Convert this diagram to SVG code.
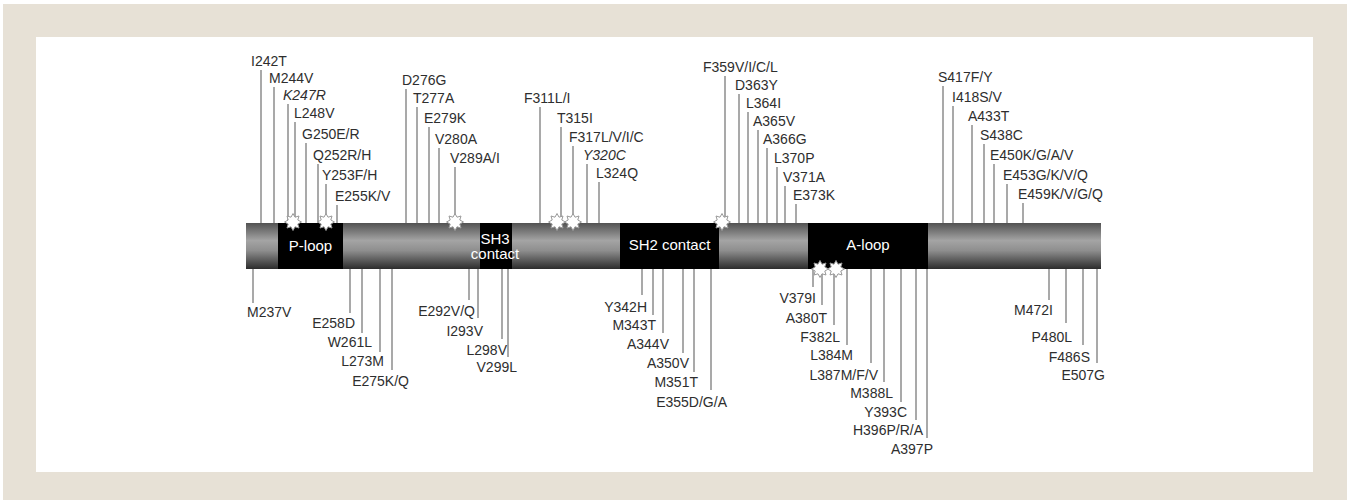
<svg xmlns="http://www.w3.org/2000/svg" width="1354" height="500" viewBox="0 0 1354 500">
<defs>
<linearGradient id="barGrad" x1="0" y1="0" x2="0" y2="1">
<stop offset="0" stop-color="#525252"/>
<stop offset="0.38" stop-color="#a4a4a4"/>
<stop offset="0.6" stop-color="#8e8e8e"/>
<stop offset="1" stop-color="#2c2c2c"/>
</linearGradient>
<polygon id="star" points="0,-8.5 2,-4.8 6,-6 4.8,-2 8.5,0 4.8,2 6,6 2,4.8 0,8.5 -2,4.8 -6,6 -4.8,2 -8.5,0 -4.8,-2 -6,-6 -2,-4.8"/>
</defs>
<style>
text{font-family:"Liberation Sans",Arial,sans-serif;font-size:14px;fill:#2e2e2e}
.it{font-style:italic}
.e{text-anchor:end}
.dom{fill:#fff;font-size:15px;text-anchor:middle}
#connectors line{stroke:#707070;stroke-width:1.2}
.st{fill:#fff;stroke:#9a9a9a;stroke-width:1}
</style>
<rect x="0" y="0" width="1354" height="500" fill="#fff"/>
<rect x="3" y="4" width="1344" height="496" fill="#e7e1d6"/>
<rect x="36" y="37" width="1277" height="435" fill="#fff"/>

<g id="connectors">
<line x1="261" y1="70" x2="261" y2="223"/>
<line x1="274" y1="87" x2="274" y2="223"/>
<line x1="288" y1="104" x2="288" y2="223"/>
<line x1="295" y1="122" x2="295" y2="223"/>
<line x1="306" y1="143" x2="306" y2="223"/>
<line x1="318" y1="164" x2="318" y2="223"/>
<line x1="326" y1="184" x2="326" y2="223"/>
<line x1="337" y1="205" x2="337" y2="223"/>
<line x1="406" y1="89" x2="406" y2="223"/>
<line x1="417" y1="107" x2="417" y2="223"/>
<line x1="429" y1="127" x2="429" y2="223"/>
<line x1="439" y1="148" x2="439" y2="223"/>
<line x1="455" y1="167" x2="455" y2="223"/>
<line x1="540" y1="107" x2="540" y2="223"/>
<line x1="561" y1="127" x2="561" y2="223"/>
<line x1="573" y1="146" x2="573" y2="223"/>
<line x1="587" y1="164" x2="587" y2="223"/>
<line x1="599" y1="182" x2="599" y2="223"/>
<line x1="725" y1="76" x2="725" y2="223"/>
<line x1="739" y1="94" x2="739" y2="223"/>
<line x1="748" y1="112" x2="748" y2="223"/>
<line x1="758" y1="130" x2="758" y2="223"/>
<line x1="767" y1="148" x2="767" y2="223"/>
<line x1="777" y1="167" x2="777" y2="223"/>
<line x1="785" y1="186" x2="785" y2="223"/>
<line x1="796" y1="204" x2="796" y2="223"/>
<line x1="943" y1="86" x2="943" y2="223"/>
<line x1="953" y1="106" x2="953" y2="223"/>
<line x1="972" y1="125" x2="972" y2="223"/>
<line x1="984" y1="144" x2="984" y2="223"/>
<line x1="994" y1="164" x2="994" y2="223"/>
<line x1="1007" y1="184" x2="1007" y2="223"/>
<line x1="1023" y1="203" x2="1023" y2="223"/>

<line x1="253" y1="269" x2="253" y2="303"/>
<line x1="350" y1="269" x2="350" y2="313"/>
<line x1="362" y1="269" x2="362" y2="333"/>
<line x1="380" y1="269" x2="380" y2="352"/>
<line x1="392" y1="269" x2="392" y2="370"/>
<line x1="469" y1="269" x2="469" y2="300"/>
<line x1="478" y1="269" x2="478" y2="318"/>
<line x1="502" y1="269" x2="502" y2="339"/>
<line x1="508" y1="269" x2="508" y2="357"/>
<line x1="642" y1="269" x2="642" y2="295"/>
<line x1="653" y1="269" x2="653" y2="315"/>
<line x1="663" y1="269" x2="663" y2="333"/>
<line x1="683" y1="269" x2="683" y2="353"/>
<line x1="694" y1="269" x2="694" y2="372"/>
<line x1="711" y1="269" x2="711" y2="390"/>
<line x1="813" y1="269" x2="813" y2="287"/>
<line x1="822" y1="269" x2="822" y2="305"/>
<line x1="834" y1="269" x2="834" y2="325"/>
<line x1="847" y1="269" x2="847" y2="345"/>
<line x1="871" y1="269" x2="871" y2="363"/>
<line x1="884" y1="269" x2="884" y2="382"/>
<line x1="901" y1="269" x2="901" y2="402"/>
<line x1="916" y1="269" x2="916" y2="420"/>
<line x1="927" y1="269" x2="927" y2="438"/>
<line x1="1049" y1="269" x2="1049" y2="300"/>
<line x1="1066" y1="269" x2="1066" y2="323"/>
<line x1="1083" y1="269" x2="1083" y2="345"/>
<line x1="1097" y1="269" x2="1097" y2="363"/>
</g>

<g id="protein">
<rect x="246" y="223" width="855" height="46" fill="url(#barGrad)"/>
</g>
<g id="p-loop"><rect x="278" y="223" width="65" height="46" fill="#000"/><text class="dom" x="310.5" y="251">P-loop</text></g>
<g id="sh3-contact"><rect x="480" y="223" width="32" height="46" fill="#000"/><text class="dom" x="495" y="244">SH3</text><text class="dom" x="495" y="259">contact</text></g>
<g id="sh2-contact"><rect x="620" y="223" width="99" height="46" fill="#000"/><text class="dom" x="669.5" y="250">SH2 contact</text></g>
<g id="a-loop"><rect x="808" y="223" width="120" height="46" fill="#000"/><text class="dom" x="868" y="250">A-loop</text></g>

<g id="stars">
<use href="#star" class="st" x="293" y="222"/>
<use href="#star" class="st" x="326" y="222"/>
<use href="#star" class="st" x="455" y="222"/>
<use href="#star" class="st" x="557" y="222"/>
<use href="#star" class="st" x="573" y="222"/>
<use href="#star" class="st" x="722" y="222"/>
<use href="#star" class="st" x="820" y="269"/>
<use href="#star" class="st" x="836" y="269"/>
</g>

<g id="top-labels">
<g id="I242T"><text x="251" y="66">I242T</text></g>
<g id="M244V"><text x="269" y="83">M244V</text></g>
<g id="K247R"><text class="it" x="283" y="100">K247R</text></g>
<g id="L248V"><text x="294" y="118">L248V</text></g>
<g id="G250E"><text x="302" y="139">G250E/R</text></g>
<g id="Q252R"><text x="313" y="160">Q252R/H</text></g>
<g id="Y253F"><text x="322" y="180">Y253F/H</text></g>
<g id="E255K"><text x="335" y="201">E255K/V</text></g>
<g id="D276G"><text x="402" y="85">D276G</text></g>
<g id="T277A"><text x="413" y="103">T277A</text></g>
<g id="E279K"><text x="424" y="123">E279K</text></g>
<g id="V280A"><text x="435" y="144">V280A</text></g>
<g id="V289A"><text x="450" y="163">V289A/I</text></g>
<g id="F311L"><text x="524" y="103">F311L/I</text></g>
<g id="T315I"><text x="557" y="123">T315I</text></g>
<g id="F317L"><text x="569" y="142">F317L/V/I/C</text></g>
<g id="Y320C"><text class="it" x="583" y="160">Y320C</text></g>
<g id="L324Q"><text x="596" y="178">L324Q</text></g>
<g id="F359V"><text x="703" y="72">F359V/I/C/L</text></g>
<g id="D363Y"><text x="735" y="90">D363Y</text></g>
<g id="L364I"><text x="746" y="108">L364I</text></g>
<g id="A365V"><text x="753" y="126">A365V</text></g>
<g id="A366G"><text x="763" y="144">A366G</text></g>
<g id="L370P"><text x="774" y="163">L370P</text></g>
<g id="V371A"><text x="783" y="182">V371A</text></g>
<g id="E373K"><text x="793" y="200">E373K</text></g>
<g id="S417F"><text x="938" y="82">S417F/Y</text></g>
<g id="I418S"><text x="952" y="102">I418S/V</text></g>
<g id="A433T"><text x="968" y="121">A433T</text></g>
<g id="S438C"><text x="980" y="140">S438C</text></g>
<g id="E450K"><text x="990" y="160">E450K/G/A/V</text></g>
<g id="E453G"><text x="1003" y="180">E453G/K/V/Q</text></g>
<g id="E459K"><text x="1018" y="199">E459K/V/G/Q</text></g>
</g>

<g id="bottom-labels">
<g id="M237V"><text x="247" y="317">M237V</text></g>
<g id="E258D"><text class="e" x="355" y="328">E258D</text></g>
<g id="W261L"><text class="e" x="372" y="347">W261L</text></g>
<g id="L273M"><text class="e" x="384" y="366">L273M</text></g>
<g id="E275K"><text class="e" x="409" y="386">E275K/Q</text></g>
<g id="E292V"><text class="e" x="475" y="316">E292V/Q</text></g>
<g id="I293V"><text class="e" x="483" y="336">I293V</text></g>
<g id="L298V"><text class="e" x="507" y="355">L298V</text></g>
<g id="V299L"><text class="e" x="517" y="372">V299L</text></g>
<g id="Y342H"><text class="e" x="647" y="312">Y342H</text></g>
<g id="M343T"><text class="e" x="656" y="330">M343T</text></g>
<g id="A344V"><text class="e" x="669" y="349">A344V</text></g>
<g id="A350V"><text class="e" x="689" y="368">A350V</text></g>
<g id="M351T"><text class="e" x="698" y="387">M351T</text></g>
<g id="E355D"><text class="e" x="727" y="407">E355D/G/A</text></g>
<g id="V379I"><text class="e" x="816" y="303">V379I</text></g>
<g id="A380T"><text class="e" x="827" y="323">A380T</text></g>
<g id="F382L"><text class="e" x="840" y="342">F382L</text></g>
<g id="L384M"><text class="e" x="853" y="360">L384M</text></g>
<g id="L387M"><text class="e" x="878" y="380">L387M/F/V</text></g>
<g id="M388L"><text class="e" x="893" y="398">M388L</text></g>
<g id="Y393C"><text class="e" x="907" y="417">Y393C</text></g>
<g id="H396P"><text class="e" x="923" y="435">H396P/R/A</text></g>
<g id="A397P"><text class="e" x="933" y="454">A397P</text></g>
<g id="M472I"><text class="e" x="1053" y="315">M472I</text></g>
<g id="P480L"><text class="e" x="1072" y="342">P480L</text></g>
<g id="F486S"><text class="e" x="1090" y="362">F486S</text></g>
<g id="E507G"><text class="e" x="1105" y="380">E507G</text></g>
</g>
</svg>
